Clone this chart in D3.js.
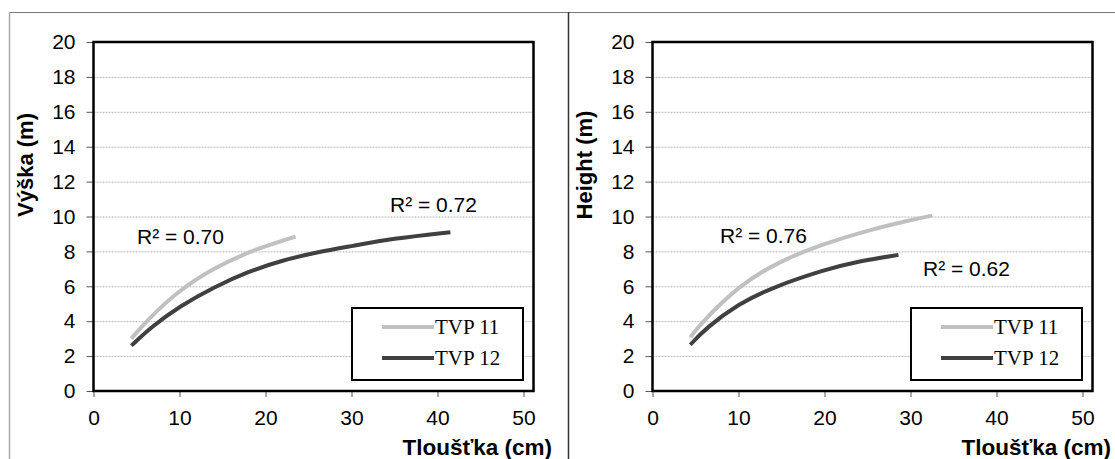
<!DOCTYPE html>
<html>
<head>
<meta charset="utf-8">
<script src="https://cdn.jsdelivr.net/npm/d3@7"></script>
<style>
  body { margin: 0; background: #fff; }
  svg { display: block; }
  .tick text { font-family: Arial, "Liberation Sans", sans-serif; }
</style>
</head>
<body>
<div id="graph"></div>
<script>
// values
var xTicks = [0, 10, 20, 30, 40, 50];
var yTicks = [0, 2, 4, 6, 8, 10, 12, 14, 16, 18, 20];
var seriesNames = ["TVP 11", "TVP 12"];
var seriesColors = ["#c0c0c0", "#404040"];

// left panel (Výška)
var leftTvp11 = [[4.4, 3.0], [6.2, 4.05], [10, 5.8], [14, 7.05], [18, 7.95], [20, 8.3], [23.5, 8.85]];
var leftTvp12 = [[4.4, 2.6], [6.8, 3.7], [10, 4.85], [14, 5.95], [18, 6.85], [22, 7.5], [26, 7.95], [30, 8.3], [35, 8.75], [41.5, 9.1]];
var leftR2 = ["R² = 0.70", "R² = 0.72"];

// right panel (Height)
var rightTvp11 = [[4.4, 3.07], [5.4, 3.75], [10, 6.05], [15, 7.5], [20, 8.45], [25, 9.2], [30, 9.8], [32.5, 10.05]];
var rightTvp12 = [[4.4, 2.65], [6.2, 3.6], [10, 5.0], [14, 5.95], [20, 6.95], [24, 7.45], [28.6, 7.8]];
var rightR2 = ["R² = 0.76", "R² = 0.62"];

var W = 1115, H = 459;
var svg = d3.select("#graph").append("svg").attr("width", W).attr("height", H);

// outer frames
svg.append("line").attr("x1", 9).attr("x2", W).attr("y1", 12.5).attr("y2", 12.5)
  .attr("stroke", "#777").attr("stroke-width", 1.2);
svg.append("line").attr("x1", 9.5).attr("x2", 9.5).attr("y1", 12).attr("y2", H)
  .attr("stroke", "#aaa").attr("stroke-width", 1.5);
svg.append("line").attr("x1", 568.5).attr("x2", 568.5).attr("y1", 12).attr("y2", H)
  .attr("stroke", "#333").attr("stroke-width", 1.5);

function drawPanel(ox, yTitle, s11, s12, r2, r2pos) {
  var g = svg.append("g").attr("transform", "translate(" + ox + ",0)");
  var x = d3.scaleLinear().domain([0, 50]).range([84.5, 514.5]);
  var y = d3.scaleLinear().domain([0, 20]).range([391, 42]);

  // grid
  g.selectAll(".grid").data(yTicks.filter(function(d){ return d > 0 && d < 20; }))
    .enter().append("line")
    .attr("x1", x(0)).attr("x2", x(0) + 440)
    .attr("y1", function(d){ return y(d) + 0.5; }).attr("y2", function(d){ return y(d) + 0.5; })
    .attr("stroke", "#b8b8b8").attr("stroke-width", 1).attr("stroke-dasharray", "2,1");

  var yAxis = g.append("g").attr("transform", "translate(" + x(0) + ",0)")
    .call(d3.axisLeft(y).tickValues(yTicks).tickSize(7).tickPadding(11));
  var xAxis = g.append("g").attr("transform", "translate(0," + y(0) + ")")
    .call(d3.axisBottom(x).tickValues(xTicks).tickSize(6).tickPadding(13));
  [yAxis, xAxis].forEach(function(a) {
    a.select(".domain").remove();
    a.selectAll(".tick line").attr("stroke", "#555");
    a.selectAll(".tick text").attr("font-size", 21).attr("fill", "#000");
  });

  // plot frame
  g.append("rect").attr("x", x(0)).attr("y", y(20)).attr("width", 440).attr("height", y(0) - y(20))
    .attr("fill", "none").attr("stroke", "#000").attr("stroke-width", 2.5);

  var line = d3.line().x(function(d){ return x(d[0]); }).y(function(d){ return y(d[1]); })
    .curve(d3.curveBasis);
  [s11, s12].forEach(function(s, i) {
    g.append("path").datum(s).attr("d", line).attr("fill", "none")
      .attr("stroke", seriesColors[i]).attr("stroke-width", 4);
  });

  r2.forEach(function(t, i) {
    g.append("text").attr("x", r2pos[i][0]).attr("y", r2pos[i][1])
      .attr("font-family", "Arial, 'Liberation Sans', sans-serif").attr("font-size", 21).text(t);
  });

  // legend
  var lg = g.append("g").attr("transform", "translate(343,308)");
  lg.append("rect").attr("width", 171).attr("height", 72).attr("fill", "#fff")
    .attr("stroke", "#000").attr("stroke-width", 2);
  seriesNames.forEach(function(n, i) {
    var ly = 19 + i * 31;
    lg.append("line").attr("x1", 30).attr("x2", 82).attr("y1", ly).attr("y2", ly)
      .attr("stroke", seriesColors[i]).attr("stroke-width", 4);
    lg.append("text").attr("x", 83).attr("y", ly + 7)
      .attr("font-family", "'Liberation Serif', 'Times New Roman', serif").attr("font-size", 21).text(n);
  });

  // axis titles
  g.append("text").attr("x", 543).attr("y", 455).attr("text-anchor", "end")
    .attr("font-family", "Arial, 'Liberation Sans', sans-serif").attr("font-weight", "bold")
    .attr("font-size", 22.5).text("Tloušťka (cm)");
  g.append("text").attr("transform", "translate(24,165) rotate(-90)").attr("text-anchor", "middle")
    .attr("font-family", "Arial, 'Liberation Sans', sans-serif").attr("font-weight", "bold")
    .attr("font-size", 22).text(yTitle);
}

drawPanel(9, "Výška (m)", leftTvp11, leftTvp12, leftR2, [[128, 244], [381, 212]]);
drawPanel(568, "Height (m)", rightTvp11, rightTvp12, rightR2, [[152, 243], [355, 276]]);
</script>
</body>
</html>
